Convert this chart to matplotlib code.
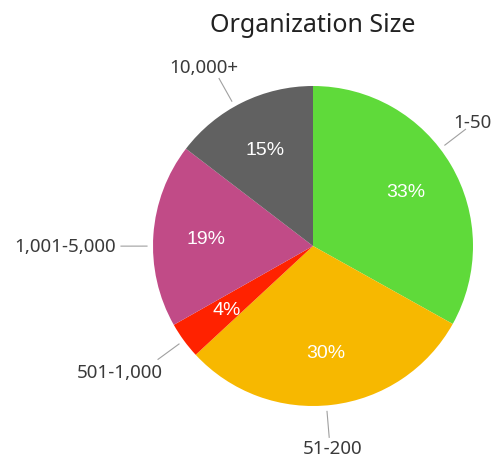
import matplotlib
matplotlib.use("Agg")
import matplotlib.pyplot as plt
import numpy as np

# Data
categories = ["1-50", "51-200", "501-1,000", "1,001-5,000", "10,000+"]
values = [33.1, 30.0, 3.7, 18.6, 14.6]
colors = ["#5FDA3A", "#F7B800", "#FF2200", "#C14B87", "#616161"]
title = "Organization Size"

W, H = 501, 460
fig = plt.figure(figsize=(W / 100, H / 100), dpi=100)
ax = fig.add_axes([0, 0, 1, 1])

cx, cy, R = 313, H - 247, 160

wedges, texts, autotexts = ax.pie(
    values, colors=colors, startangle=90, counterclock=False,
    center=(cx, cy), radius=R, autopct="%.0f%%", pctdistance=0.67,
    textprops=dict(color="white", fontsize=14, family="Liberation Sans"),
    wedgeprops=dict(linewidth=0),
)

ax.set_xlim(0, W)
ax.set_ylim(0, H)
ax.set_aspect("equal")
ax.axis("off")

# outer labels with connector lines
total = sum(values)
# per-label layout: (angle shift deg, text dx, text dy, ha, va)
layout = {
    "1-50": (-7, -12, -2, "left", "bottom"),
    "51-200": (2, -26, -2, "left", "top"),
    "501-1,000": (0, 5, -4, "right", "top"),
    "1,001-5,000": (-4, -5, 0, "right", "center"),
    "10,000+": (-3, 19, 3, "right", "bottom"),
}
cum = 0
for cat, v in zip(categories, values):
    mid = (cum + v / 2) / total * 360
    cum += v
    shift, tdx, tdy, ha, va = layout[cat]
    a = np.deg2rad(mid + shift)
    sx, sy = np.sin(a), np.cos(a)
    r0, r1 = R + 6, R + 32
    x0, y0 = cx + r0 * sx, cy + r0 * sy
    x1, y1 = cx + r1 * sx, cy + r1 * sy
    ax.plot([x0, x1], [y0, y1], color="#A0A0A0", lw=0.8)
    ax.text(x1 + tdx, y1 + tdy, cat, ha=ha, va=va, fontsize=13.5,
            color="#3a3a3a", family="Noto Sans")

fig.text(313 / W, 1 - 25 / H, title, ha="center", va="center",
         fontsize=18, color="#222222", family="Noto Sans")

fig.savefig("out.png", dpi=100)
